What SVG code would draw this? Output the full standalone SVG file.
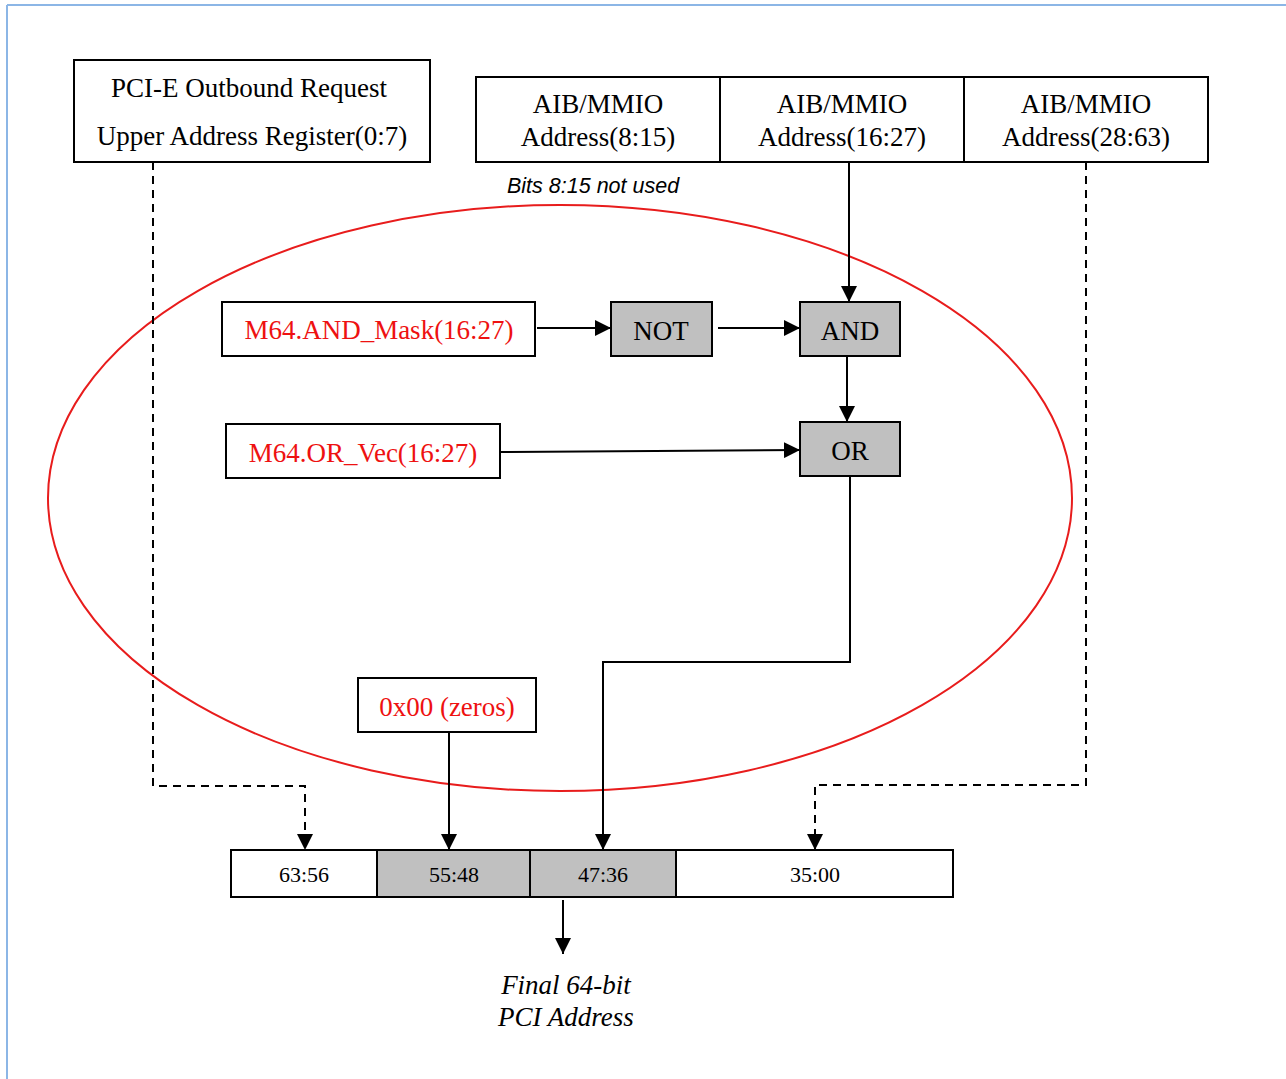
<svg xmlns="http://www.w3.org/2000/svg" width="1286" height="1079" viewBox="0 0 1286 1079">
  <style>
    .box { fill: #ffffff; stroke: #000000; stroke-width: 2; }
    .gate { fill: #c0c0c0; stroke: #000000; stroke-width: 2; }
    .lbl { font-family: "Liberation Serif", "Times New Roman", serif; font-size: 27px; fill: #000000; text-anchor: middle; }
    .red { fill: #ee1111; }
    .small { font-size: 22px; }
    .wire { fill: none; stroke: #000000; stroke-width: 2; }
    .dash { fill: none; stroke: #000000; stroke-width: 2; stroke-dasharray: 8 6; }
  </style>
  <defs>
    <marker id="arrowL" viewBox="0 0 10 10" refX="10" refY="5" markerWidth="16" markerHeight="16" markerUnits="userSpaceOnUse" orient="auto">
      <path d="M0,0 L10,5 L0,10 Z" fill="#000000"/>
    </marker>
  </defs>

  <rect x="0" y="0" width="1286" height="1079" fill="#ffffff"/>
  <!-- page frame -->
  <line x1="7" y1="5" x2="1286" y2="5" stroke="#8cb6e6" stroke-width="2"/>
  <line x1="7" y1="5" x2="7" y2="1079" stroke="#8cb6e6" stroke-width="2"/>

  <!-- highlighted region -->
  <ellipse id="region" cx="560" cy="498" rx="512" ry="293" fill="none" stroke="#e81c1c" stroke-width="2"/>

  <g id="connectors">
    <line class="wire" x1="849" y1="162" x2="849" y2="302" marker-end="url(#arrowL)"/>
    <line class="wire" x1="537" y1="328" x2="611" y2="328" marker-end="url(#arrowL)"/>
    <line class="wire" x1="718" y1="328" x2="800" y2="328" marker-end="url(#arrowL)"/>
    <line class="wire" x1="847" y1="356" x2="847" y2="422" marker-end="url(#arrowL)"/>
    <line class="wire" x1="501" y1="452" x2="800" y2="450" marker-end="url(#arrowL)"/>
    <polyline class="wire" points="850,476 850,662 603,662 603,850" marker-end="url(#arrowL)"/>
    <line class="wire" x1="449" y1="732" x2="449" y2="850" marker-end="url(#arrowL)"/>
    <polyline class="dash" points="153,162 153,786 305,786 305,850" marker-end="url(#arrowL)"/>
    <polyline class="dash" points="1086,162 1086,785 815,785 815,850" marker-end="url(#arrowL)"/>
    <line class="wire" x1="563" y1="900" x2="563" y2="954" marker-end="url(#arrowL)"/>
  </g>

  <g id="upper-reg">
    <rect class="box" x="74" y="60" width="356" height="102"/>
    <text class="lbl" x="249" y="97">PCI-E Outbound Request</text>
    <text class="lbl" x="252" y="145">Upper Address Register(0:7)</text>
  </g>

  <g id="aib-addr">
    <rect class="box" x="476" y="77" width="732" height="85" stroke-width="3"/>
    <line x1="720" y1="77" x2="720" y2="162" stroke="#000" stroke-width="2"/>
    <line x1="964" y1="77" x2="964" y2="162" stroke="#000" stroke-width="2"/>
    <text class="lbl" x="598" y="113">AIB/MMIO</text>
    <text class="lbl" x="598" y="146">Address(8:15)</text>
    <text class="lbl" x="842" y="113">AIB/MMIO</text>
    <text class="lbl" x="842" y="146">Address(16:27)</text>
    <text class="lbl" x="1086" y="113">AIB/MMIO</text>
    <text class="lbl" x="1086" y="146">Address(28:63)</text>
  </g>

  <text id="note" x="507" y="193" font-family="Liberation Sans, Arial, sans-serif" font-size="21.5" font-style="italic" fill="#000">Bits 8:15 not used</text>

  <g id="and-mask">
    <rect class="box" x="222" y="302" width="313" height="54"/>
    <text class="lbl red" x="379" y="339">M64.AND_Mask(16:27)</text>
  </g>
  <g id="not-gate">
    <rect class="gate" x="611" y="302" width="101" height="54"/>
    <text class="lbl" x="661" y="340">NOT</text>
  </g>
  <g id="and-gate">
    <rect class="gate" x="800" y="302" width="100" height="54"/>
    <text class="lbl" x="850" y="340">AND</text>
  </g>
  <g id="or-vec">
    <rect class="box" x="226" y="424" width="274" height="54"/>
    <text class="lbl red" x="363" y="462">M64.OR_Vec(16:27)</text>
  </g>
  <g id="or-gate">
    <rect class="gate" x="800" y="422" width="100" height="54"/>
    <text class="lbl" x="850" y="460">OR</text>
  </g>
  <g id="zeros">
    <rect class="box" x="358" y="678" width="178" height="54"/>
    <text class="lbl red" x="447" y="716">0x00 (zeros)</text>
  </g>

  <g id="pci-addr">
    <rect class="box" x="231" y="850" width="146" height="47"/>
    <rect class="gate" x="377" y="850" width="153" height="47"/>
    <rect class="gate" x="530" y="850" width="146" height="47"/>
    <rect class="box" x="676" y="850" width="277" height="47"/>
    <text class="lbl small" x="304" y="882">63:56</text>
    <text class="lbl small" x="454" y="882">55:48</text>
    <text class="lbl small" x="603" y="882">47:36</text>
    <text class="lbl small" x="815" y="882">35:00</text>
  </g>

  <g id="result">
    <text class="lbl" x="566" y="994" font-style="italic">Final 64-bit</text>
    <text class="lbl" x="566" y="1026" font-style="italic">PCI Address</text>
  </g>
</svg>
